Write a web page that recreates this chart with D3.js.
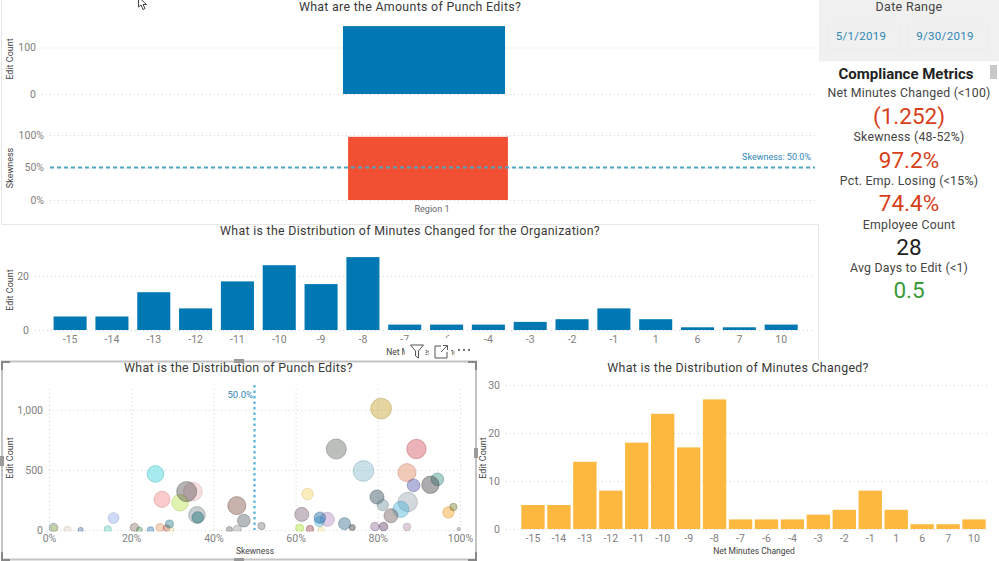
<!DOCTYPE html>
<html><head><meta charset="utf-8">
<style>
html,body{margin:0;padding:0;background:#fff;overflow:hidden}
svg{display:block}
text{font-family:Roboto,"Noto Sans",sans-serif}
.ax text{fill:#808080;font-size:10.5px}
.ax path{display:none}
.ax line{stroke:#d4d4d4;stroke-dasharray:1 3;stroke-width:1}
</style>
<script src="https://cdn.jsdelivr.net/npm/d3@7"></script>
</head><body>
<svg id="c" width="999" height="561"></svg>
<script>
// ---- data ----
const regionCategories = ["Region 1"];
const regionEditCount = [146];
const regionSkewness = [0.972];
const skewTarget = 0.5;
const editCountTicks = [0, 100];
const skewTicks = [0, 0.5, 1];

const minuteCategories = ["-15","-14","-13","-12","-11","-10","-9","-8","-7","-6","-4","-3","-2","-1","1","6","7","10"];
const orgEditCounts = [5,5,14,8,18,24,17,27,2,2,2,3,4,8,4,1,1,2];
const orgTicks = [0, 20];
const regionEditCounts = [5,5,14,8,18,24,17,27,2,2,2,3,4,8,4,1,1,2];
const regionTicks = [0, 10, 20, 30];

const bubbleSkew = [1.1,1.2,4.5,7.7,15.7,14.3,20.8,22,24.7,27,28.6,29.5,29.3,25.9,27.5,31.9,35,33.5,36,36.2,45.7,47.4,43.9,45.8,51.7,
  80.8,69.9,89.4,76.5,87.1,88.7,94.5,92.8,62.9,79.8,81.2,87.3,85.6,83.2,61.5,67.7,65.8,65.9,71.9,73.8,79.3,81.4,87.1,61,63.5,66.2,99.7,97.2,98.4];
const bubbleEdits = [20,15,0,0,100,5,20,0,0,20,15,0,50,467,255,228,320,320,125,105,203,78,5,5,33,
  1011,675,675,492,478,372,422,377,300,275,208,233,172,119,130,89,70,103,53,20,28,28,25,15,8,0,8,147,192];
const bubbleSize = [169,100,121,64,256,121,169,81,100,144,100,121,144,625,576,625,784,900,625,289,729,361,81,144,121,
  961,900,841,961,729,361,361,676,289,441,289,841,576,441,441,441,225,289,324,81,169,169,121,144,121,81,25,289,121];
const bubbleColors = ["#6f8fa8","#c9d36a","#e4d6c4","#5b6fa8","#8fa8ee","#5fcdc0","#8a6f66","#4f9a5a","#2f78b5","#e09a5a","#c9504f","#f0d898","#1f7f8f",
  "#30d0d8","#f58080","#b5e040","#e9b0b8","#4f4a4a","#7f8a90","#0f6f78","#7a4a38","#4f5a60","#666","#999","#777",
  "#c09a20","#5f6660","#d04a55","#7fb5c8","#e0805a","#4a50a8","#2f8a80","#3a3a40","#f5d560","#27424f","#6a9098","#93a3aa","#40b0d8","#6a5550","#7a6070","#b588c0","#55b5e0","#0f5f9f","#2f6a88","#333","#8a6a95","#5a3a60","#b090a8","#a8e820","#9a3a40","#f5e590","#888","#f59a10","#7a7a30"];

// ---- setup ----
const svg = d3.select("#c");
const titleColor = "#3a3a3a";
const blue = "#0078b4", red = "#f15032", amber = "#fdb93f";

function label(x, y, t, size, fill, extra) {
  const el = svg.append("text").attr("x", x).attr("y", y).attr("text-anchor", "middle")
    .attr("dominant-baseline", "middle").attr("font-size", size).attr("fill", fill).text(t);
  if (extra) extra(el);
  return el;
}
const title = (x, y, t) => label(x, y, t, 12.4, titleColor, e => e.attr("letter-spacing", "0.3"));
const yTitle = (x, y, t) => label(x, y, t, 9, "#444", e => e.attr("transform", `rotate(-90 ${x} ${y})`));
function yAxis(scale, ticks, left, right, fmt) {
  svg.append("g").attr("class", "ax").attr("transform", `translate(${left},0)`)
    .call(d3.axisLeft(scale).tickValues(ticks).tickFormat(fmt).tickSize(-(right - left)).tickPadding(6));
}
function xAxis(scale, y) {
  svg.append("g").attr("class", "ax").attr("transform", `translate(0,${y})`)
    .call(d3.axisBottom(scale).tickSize(0).tickPadding(6));
}
const pct = d3.format(".0%");

// ---- top: amounts ----
title(410, 7.5, "What are the Amounts of Punch Edits?");
const xTop = d3.scaleBand().domain(regionCategories).range([42, 806]).paddingInner(0.65).paddingOuter(0.65);
const yTop = d3.scaleLinear().domain([0, 100]).range([94, 47.5]);
yAxis(yTop, editCountTicks, 42, 815, d3.format("d"));
svg.selectAll(".barTop").data(regionEditCount).join("rect")
  .attr("x", (d, i) => xTop(regionCategories[i])).attr("width", xTop.bandwidth())
  .attr("y", d => yTop(d)).attr("height", d => yTop(0) - yTop(d)).attr("fill", blue);
yTitle(11, 59, "Edit Count");

// ---- skewness ----
const xSkew = d3.scaleBand().domain(regionCategories).range([50, 806]).paddingInner(0.651).paddingOuter(0.651);
const ySkew = d3.scaleLinear().domain([0, 1]).range([200, 135]);
yAxis(ySkew, skewTicks, 50, 815, pct);
svg.selectAll(".barSkew").data(regionSkewness).join("rect")
  .attr("x", (d, i) => xSkew(regionCategories[i])).attr("width", xSkew.bandwidth())
  .attr("y", d => ySkew(d)).attr("height", d => ySkew(0) - ySkew(d)).attr("fill", red);
svg.append("line").attr("x1", 50).attr("x2", 815).attr("y1", ySkew(skewTarget)).attr("y2", ySkew(skewTarget))
  .attr("stroke", "#4ea6c4").attr("stroke-width", 2).attr("stroke-dasharray", "4 3");
svg.append("text").attr("x", 811).attr("y", 158).attr("text-anchor", "end").attr("dominant-baseline", "middle")
  .attr("font-size", 9).attr("fill", "#2f86b5").text("Skewness: 50.0%");
label(432, 210, "Region 1", 9, "#666");
yTitle(11, 168, "Skewness");

// ---- middle: organization distribution ----
svg.append("path").attr("d", "M1.5 215V224.5H818.5V360").attr("fill", "none").attr("stroke", "#e6e6e6");
svg.append("path").attr("d", "M1.5 0V215").attr("fill", "none").attr("stroke", "#e6e6e6");
title(410, 232, "What is the Distribution of Minutes Changed for the Organization?");
const xOrg = d3.scaleBand().domain(minuteCategories).range([49.2, 802.1]).paddingInner(0.21).paddingOuter(0.105);
const yOrg = d3.scaleLinear().domain([0, 20]).range([330, 276]);
yAxis(yOrg, orgTicks, 35, 815, d3.format("d"));
svg.selectAll(".barOrg").data(orgEditCounts).join("rect")
  .attr("x", (d, i) => xOrg(minuteCategories[i])).attr("width", xOrg.bandwidth())
  .attr("y", d => yOrg(d)).attr("height", d => yOrg(0) - yOrg(d)).attr("fill", blue);
xAxis(xOrg, 330);
yTitle(11, 290, "Edit Count");
label(427, 352.5, "Net Minutes Changed", 8.5, "#444");

// focus-mode header that covers parts of the axis
svg.append("rect").attr("x", 398).attr("y", 340).attr("width", 80).attr("height", 6).attr("fill", "#fff");
svg.append("rect").attr("x", 440).attr("y", 338).attr("width", 15).attr("height", 3).attr("fill", "#fff");
[[405,20.5],[429,22],[454.5,23]].forEach(r => svg.append("rect").attr("x", r[0]).attr("y", 346).attr("width", r[1]).attr("height", 13).attr("fill", "#fff"));
svg.append("path").attr("d", "M410.5 345H423.5L418.5 351V358L415.5 356V351Z").attr("fill", "none").attr("stroke", "#555");
svg.append("path").attr("d", "M441 346H435V358H447V352M441 352L447 346M443 345.5H447.5V350").attr("fill", "none").attr("stroke", "#555");
["459","464","469"].forEach(x => svg.append("circle").attr("cx", +x).attr("cy", 350).attr("r", 1).attr("fill", "#444"));

// ---- bubble chart ----
svg.append("rect").attr("x", 2).attr("y", 361.5).attr("width", 474).attr("height", 198).attr("fill", "#fff")
  .attr("stroke", "#c4c4c4").attr("stroke-width", 2);
title(238.5, 369, "What is the Distribution of Punch Edits?");
const xB = d3.scaleLinear().domain([0, 100]).range([49, 460]);
const yB = d3.scaleLinear().domain([0, 1000]).range([530, 410]);
const rB = d3.scaleSqrt().domain([0, 961]).range([0, 10.4]);
yAxis(yB, [0, 500, 1000], 49, 460, d3.format(","));
svg.append("g").attr("class", "ax").attr("transform", "translate(0,530)")
  .call(d3.axisBottom(xB).tickValues([0, 20, 40, 60, 80, 100]).tickFormat(d => d + "%").tickSize(-142).tickPadding(5));
svg.append("clipPath").attr("id", "plotClip").append("rect").attr("x", 40).attr("y", 385).attr("width", 430).attr("height", 146.5);
svg.append("g").attr("clip-path", "url(#plotClip)").selectAll("circle").data(bubbleSkew).join("circle")
  .attr("cx", d => xB(d)).attr("cy", (d, i) => yB(bubbleEdits[i])).attr("r", (d, i) => rB(bubbleSize[i]))
  .attr("fill", (d, i) => bubbleColors[i]).attr("fill-opacity", 0.42)
  .attr("stroke", (d, i) => d3.color(bubbleColors[i]).darker(0.6)).attr("stroke-opacity", 0.45).attr("stroke-width", 0.8);
svg.append("line").attr("x1", xB(50)).attr("x2", xB(50)).attr("y1", 385).attr("y2", 530)
  .attr("stroke", "#55b5d8").attr("stroke-width", 2.2).attr("stroke-dasharray", "2.5 3");
svg.append("text").attr("x", 253).attr("y", 395).attr("text-anchor", "end").attr("dominant-baseline", "middle")
  .attr("font-size", 9.5).attr("fill", "#2f86b5").text("50.0%");
yTitle(11, 458, "Edit Count");
label(255, 552, "Skewness", 8.5, "#444");
// selection handles
[[2,361,"M2 370V362H10"],[476,361,"M468 362H476V370"],[2,560,"M2 552V560H10"],[476,560,"M468 560H476V552"]]
  .forEach(h => svg.append("path").attr("d", h[2]).attr("fill", "none").attr("stroke", "#888").attr("stroke-width", 2));
[[234,359,10,4],[234,558,10,3],[0,456,4,10],[474,448,4,10]]
  .forEach(h => svg.append("rect").attr("x", h[0]).attr("y", h[1]).attr("width", h[2]).attr("height", h[3]).attr("fill", "#9a9a9a"));

// ---- bottom right: region distribution ----
title(738, 369, "What is the Distribution of Minutes Changed?");
const xR = d3.scaleBand().domain(minuteCategories).range([520, 987]).paddingInner(0.1).paddingOuter(0.05);
const yR = d3.scaleLinear().domain([0, 30]).range([529, 385]);
yAxis(yR, regionTicks, 506, 990, d3.format("d"));
svg.selectAll(".barR").data(regionEditCounts).join("rect")
  .attr("x", (d, i) => xR(minuteCategories[i])).attr("width", xR.bandwidth())
  .attr("y", d => yR(d)).attr("height", d => yR(0) - yR(d)).attr("fill", amber);
xAxis(xR, 529);
yTitle(484, 458, "Edit Count");
label(754, 552, "Net Minutes Changed", 8.5, "#444");

// ---- right panel ----
svg.append("rect").attr("x", 819).attr("y", 0).attr("width", 180).attr("height", 61.5).attr("fill", "#f0f0f0");
label(909, 8, "Date Range", 12.5, "#444", e => e.attr("letter-spacing", "0.3"));
[[828,"5/1/2019",861],[908,"9/30/2019",945]].forEach(d => {
  svg.append("rect").attr("x", d[0]).attr("y", 24).attr("width", d[0] === 828 ? 72 : 80).attr("height", 26)
    .attr("fill", "#f0f0f0").attr("stroke", "#ebebeb");
  label(d[2], 37, d[1], 11.5, "#2f86b5", e => e.attr("letter-spacing", "0.3"));
});
svg.append("rect").attr("x", 990).attr("y", 65).attr("width", 7).attr("height", 14).attr("fill", "#c8c8c8");
label(906, 75.5, "Compliance Metrics", 15, "#222", e => e.attr("font-weight", 700));
const metricLabels = ["Net Minutes Changed (<100)", "Skewness (48-52%)", "Pct. Emp. Losing (<15%)", "Employee Count", "Avg Days to Edit (<1)"];
const metricValues = ["(1.252)", "97.2%", "74.4%", "28", "0.5"];
const metricColors = ["#d8401a", "#d8401a", "#d8401a", "#222", "#3a9a3a"];
const metricLabelY = [94, 138, 182, 226, 269];
const metricValueY = [118, 162, 205, 249, 292];
metricLabels.forEach((t, i) => {
  label(909, metricLabelY[i], t, 12.3, "#444", e => e.attr("letter-spacing", "0.25"));
  label(909, metricValueY[i], metricValues[i], 22.5, metricColors[i]);
});

// ---- cursor ----
svg.append("path").attr("d", "M138.5 -3V7L141 5L143 9.5L145 8.5L143 4.5L146.5 4.5Z").attr("fill", "#fff").attr("stroke", "#444");
</script>
</body></html>
